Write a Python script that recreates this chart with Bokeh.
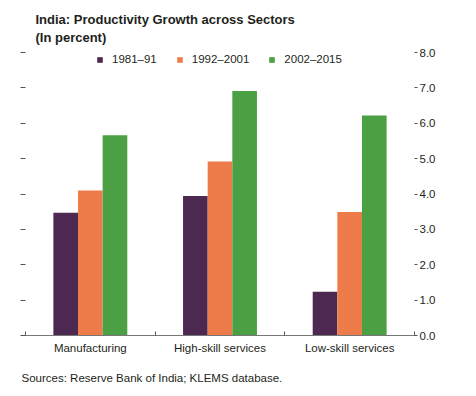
import numpy as np
from bokeh.plotting import figure
from bokeh.models import (Range1d, LinearAxis, FixedTicker, Title, Legend,
                          LegendItem, ColumnDataSource, PrintfTickFormatter)
from bokeh.embed import file_html
from bokeh.resources import INLINE

# ---- data ----
categories = ["Manufacturing", "High-skill services", "Low-skill services"]
periods = ["1981\u201391", "1992\u20132001", "2002\u20132015"]
v_1981_91 = [3.47, 3.94, 1.24]
v_1992_2001 = [4.10, 4.92, 3.49]
v_2002_2015 = [5.66, 6.91, 6.22]
y_ticks = [0, 1, 2, 3, 4, 5, 6, 7, 8]

series = [v_1981_91, v_1992_2001, v_2002_2015]
colors = ["#4d2850", "#ee7b4a", "#4ba043"]

FONT = "Liberation Sans"
TXT = "#231f20"
BAR_W = 0.19

centers = np.arange(len(categories)) + 0.5

p = figure(width=476, height=396, x_range=Range1d(0, len(categories)),
           y_range=Range1d(0, 8), output_backend="svg", toolbar_location=None,
           x_axis_location=None, y_axis_location=None,
           min_border_left=25, min_border_right=62,
           min_border_top=52, min_border_bottom=61)
p.outline_line_color = None
p.xgrid.visible = False
p.ygrid.visible = False
p.background_fill_color = "white"
p.border_fill_color = "white"

# title (two lines)
p.title.text = "India: Productivity Growth across Sectors\n(In percent)"
p.title.align = "left"
p.title.offset = 10
p.title.text_font = FONT
p.title.text_font_size = "13px"
p.title.text_font_style = "bold"
p.title.text_color = TXT
p.title.text_line_height = 1.2
p.title.standoff = 16

items = []
for i, (vals, lab, col) in enumerate(zip(series, periods, colors)):
    src = ColumnDataSource(dict(x=centers + (i - 1) * BAR_W, top=vals))
    r = p.vbar(x="x", top="top", width=BAR_W, source=src,
               fill_color=col, line_color=None)
    items.append(LegendItem(label=lab, renderers=[r]))

legend = Legend(items=items, orientation="horizontal", location=(71, 270),
                glyph_width=7, glyph_height=7, label_standoff=9, spacing=19,
                padding=0, margin=0, border_line_alpha=0,
                background_fill_alpha=0, label_height=12,
                label_text_font=FONT, label_text_font_size="11.5px",
                label_text_color=TXT)
p.add_layout(legend, "center")

# bottom axis: category labels at centres, small ticks at boundaries
xa = LinearAxis(ticker=FixedTicker(ticks=list(centers),
                                   minor_ticks=list(range(len(categories) + 1))),
                major_label_overrides={float(c): n for c, n in zip(centers, categories)},
                major_tick_in=0, major_tick_out=0,
                minor_tick_in=4, minor_tick_out=0,
                minor_tick_line_color="#555555",
                axis_line_color="#777777",
                major_label_standoff=6,
                major_label_text_font=FONT,
                major_label_text_font_size="11.5px",
                major_label_text_color=TXT)
p.add_layout(xa, "below")

# source note
p.add_layout(Title(text="Sources: Reserve Bank of India; KLEMS database.",
                   align="left", offset=-4, text_font=FONT,
                   text_font_size="11.5px", text_font_style="normal",
                   text_color=TXT, standoff=26), "below")

# left axis: tick marks only
ya_l = LinearAxis(ticker=FixedTicker(ticks=y_ticks, minor_ticks=[]),
                  major_label_overrides={t: "" for t in y_ticks},
                  major_label_standoff=0,
                  axis_line_color=None, major_tick_in=0, major_tick_out=5,
                  major_tick_line_color="#555555")
p.add_layout(ya_l, "left")

# right axis: labelled
ya_r = LinearAxis(ticker=FixedTicker(ticks=y_ticks, minor_ticks=[]),
                  formatter=PrintfTickFormatter(format="%.1f"),
                  axis_line_color=None, major_tick_in=0, major_tick_out=3,
                  major_tick_line_color="#555555",
                  major_label_standoff=2,
                  major_label_text_font=FONT,
                  major_label_text_font_size="11.5px",
                  major_label_text_color=TXT)
p.add_layout(ya_r, "right")

open("out.html", "w").write(file_html(p, INLINE))
